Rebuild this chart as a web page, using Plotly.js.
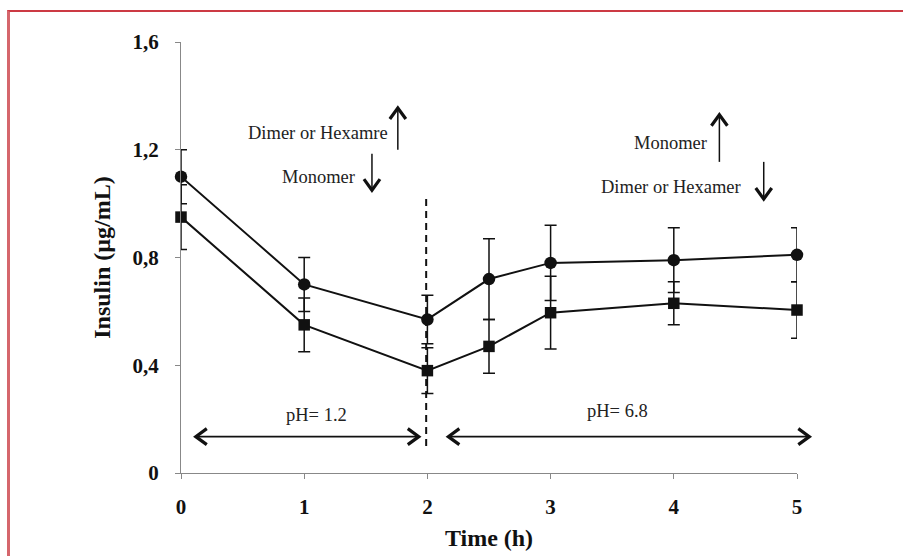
<!DOCTYPE html>
<html>
<head>
<meta charset="utf-8">
<script src="https://cdn.plot.ly/plotly-3.0.1.min.js"></script>
<style>
  html, body { margin: 0; padding: 0; background: #fff; }
  #wrap { position: relative; width: 903px; height: 556px; overflow: hidden; }
  #chart { width: 903px; height: 556px; }
  #frame { position: absolute; left: 7px; top: 10px; width: 1000px; height: 1000px;
           border-top: 2px solid #cc3a44; border-left: 3px solid #d5666c; pointer-events: none; }
</style>
</head>
<body>
<div id="wrap"><div id="chart"></div><div id="frame"></div></div>
<script>
// ---- data ----
const time = [0, 1, 2, 2.5, 3, 4, 5];
const circleVals = [1.10, 0.70, 0.57, 0.72, 0.78, 0.79, 0.81];
const circleErr  = [0.10, 0.10, 0.09, 0.15, 0.14, 0.12, 0.10];
const squareVals = [0.95, 0.55, 0.38, 0.47, 0.595, 0.63, 0.605];
const squareErr  = [0.12, 0.10, 0.085, 0.10, 0.135, 0.08, 0.105];
const yTickVals = [0, 0.4, 0.8, 1.2, 1.6];
const yTickText = ["0", "0,4", "0,8", "1,2", "1,6"];
const xTickVals = [0, 1, 2, 3, 4, 5];

// annotation texts and their anchor positions (data units)
const noteTexts = ["Dimer or Hexamre", "Monomer", "Monomer", "Dimer or Hexamer", "pH= 1.2", "pH= 6.8"];
const noteX     = [1.11, 1.12, 3.97, 3.98, 1.10, 3.54];
const noteY     = [1.262, 1.10, 1.225, 1.06, 0.215, 0.23];
// arrows: start -> end (data units); double flag for two-headed
const arrX0 = [1.76, 1.55, 4.37, 4.73, 0.12, 2.17];
const arrY0 = [1.20, 1.185, 1.155, 1.155, 0.135, 0.135];
const arrX1 = [1.76, 1.55, 4.37, 4.73, 1.93, 5.10];
const arrY1 = [1.355, 1.05, 1.33, 1.017, 0.135, 0.135];
const arrDouble = [false, false, false, false, true, true];
// phase boundary
const boundaryX = 1.99;
const boundaryY = [0.10, 1.03];

// ---- geometry ----
const W = 903, H = 556;
const M = { l: 181, r: 106, t: 42, b: 83 };
const xRange = [0, 5], yRange = [0, 1.6];
const pxX = (W - M.l - M.r) / (xRange[1] - xRange[0]);
const pxY = (H - M.t - M.b) / (yRange[1] - yRange[0]);
// data -> paper (so arrows may run past the axis end without clipping)
const toPX = x => (x - xRange[0]) / (xRange[1] - xRange[0]);
const toPY = y => (y - yRange[0]) / (yRange[1] - yRange[0]);

function arrowShapes(x0, y0, x1, y1, dbl, shaftW) {
  const shapes = [];
  shapes.push({ type: 'line', xref: 'paper', yref: 'paper', x0: toPX(x0), y0: toPY(y0), x1: toPX(x1), y1: toPY(y1),
                line: { color: '#111', width: shaftW } });
  const heads = dbl ? [[x1, y1, x0, y0], [x0, y0, x1, y1]] : [[x1, y1, x0, y0]];
  heads.forEach(h => {
    const [tx, ty, fx, fy] = h;
    const dx = (tx - fx) * pxX, dy = (ty - fy) * pxY;
    const len = Math.hypot(dx, dy);
    const ux = dx / len, uy = dy / len;
    const L = 11, Wd = 8;
    const bx = -ux * L, by = -uy * L;
    const p1x = bx + (-uy) * Wd, p1y = by + ux * Wd;
    const p2x = bx - (-uy) * Wd, p2y = by - ux * Wd;
    const path = 'M' + toPX(tx + p1x / pxX) + ',' + toPY(ty + p1y / pxY) +
                 ' L' + toPX(tx) + ',' + toPY(ty) +
                 ' L' + toPX(tx + p2x / pxX) + ',' + toPY(ty + p2y / pxY);
    shapes.push({ type: 'path', xref: 'paper', yref: 'paper', path: path,
                  line: { color: '#111', width: 3.2 } });
  });
  return shapes;
}

let shapes = [];
for (let i = 0; i < arrX0.length; i++) {
  shapes = shapes.concat(arrowShapes(arrX0[i], arrY0[i], arrX1[i], arrY1[i], arrDouble[i], arrDouble[i] ? 1.8 : 1.5));
}
shapes.push({ type: 'line', xref: 'x', yref: 'y', x0: boundaryX, x1: boundaryX,
              y0: boundaryY[0], y1: boundaryY[1],
              line: { color: '#111', width: 2, dash: '7px,5px' } });

const serif = '"Liberation Serif", "Times New Roman", serif';
const annotations = noteTexts.map((t, i) => ({
  x: noteX[i], y: noteY[i], xref: 'x', yref: 'y', text: t, showarrow: false,
  xanchor: 'center', yanchor: 'middle',
  font: { family: serif, size: 18.5, color: '#222' }
}));

const errStyle = (arr) => ({ type: 'data', array: arr, visible: true, color: '#111', thickness: 1.5, width: 6 });

const traces = [
  { x: time, y: circleVals, type: 'scatter', mode: 'lines+markers', cliponaxis: false,
    line: { color: '#111', width: 2 },
    marker: { symbol: 'circle', size: 12.5, color: '#111' },
    error_y: errStyle(circleErr), name: 'circle' },
  { x: time, y: squareVals, type: 'scatter', mode: 'lines+markers', cliponaxis: false,
    line: { color: '#111', width: 2 },
    marker: { symbol: 'square', size: 11.5, color: '#111' },
    error_y: errStyle(squareErr), name: 'square' }
];

const tickFont = { family: serif, size: 21, color: '#111', weight: 'bold' };

const layout = {
  width: W, height: H,
  margin: M,
  paper_bgcolor: '#fff', plot_bgcolor: '#fff',
  showlegend: false,
  xaxis: {
    range: xRange, tickvals: xTickVals, ticks: 'outside', ticklen: 5, tickcolor: '#888',
    showline: true, linecolor: '#888', linewidth: 1, showgrid: false, zeroline: false,
    tickfont: tickFont, ticklabelstandoff: 10,
    title: { text: '<b>Time (h)</b>', font: { family: serif, size: 24, color: '#111' }, standoff: 10 }
  },
  yaxis: {
    range: yRange, tickvals: yTickVals, ticktext: yTickText, ticks: 'outside', ticklen: 5, tickcolor: '#888',
    showline: true, linecolor: '#888', linewidth: 1, showgrid: false, zeroline: false,
    tickfont: tickFont, ticklabelstandoff: 12,
    title: { text: '<b>Insulin (µg/mL)</b>', font: { family: serif, size: 24, color: '#111' }, standoff: 15 }
  },
  shapes: shapes,
  annotations: annotations
};

Plotly.newPlot('chart', traces, layout, { displayModeBar: false, staticPlot: true });
</script>
</body>
</html>
